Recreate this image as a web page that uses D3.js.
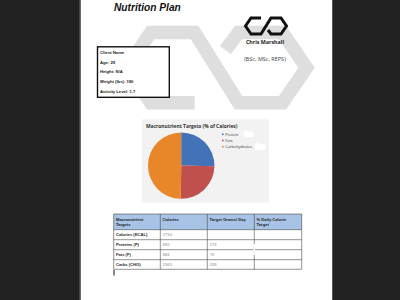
<!DOCTYPE html>
<html><head><meta charset="utf-8">
<script src="https://cdn.jsdelivr.net/npm/d3@7"></script>
<style>html,body{margin:0;padding:0;background:#222;}svg{display:block;}</style>
</head><body>
<svg id="c" width="400" height="300"></svg>
<script>
const categories = ["Protein", "Fats", "Carbohydrates"];
const calories = [692, 683, 1365];
const grams = [173, 76, 339];
const rowLabels = ["Calories (KCAL)", "Proteins (P)", "Fats (F)", "Carbs (CHO)"];
const totalCalories = 2730;
const headers = [["Macronutrient", "Targets"], ["Calories"], ["Target Grams/ Day"], ["% Daily Calorie", "Target"]];
const clientInfo = ["Client Name", "Age: 29", "Height: N/A", "Weight (lbs): 190", "Activity Level: 1.7"];
const colors = ["#4472b8", "#c0504d", "#e8872a"];

const svg = d3.select("#c");
const F = "'Liberation Sans', Arial, sans-serif";
const FC = "'Open Sans', 'Liberation Sans', sans-serif";

// background / page
svg.append("rect").attr("width", 400).attr("height", 300).attr("fill", "#222222");
svg.append("rect").attr("x", 79.5).attr("y", 0).attr("width", 2).attr("height", 300).attr("fill", "#6a6a6a");
svg.append("rect").attr("x", 81).attr("y", 0).attr("width", 251).attr("height", 300).attr("fill", "#ffffff");
svg.append("rect").attr("x", 332).attr("y", 0).attr("width", 1).attr("height", 300).attr("fill", "#555");

// logo path in unit coordinates (44 x 19)
const logoPts1 = [[17,1.5],[7,1.5],[1.5,9.5],[7,17.5],[17,17.5],[27,1.5],[37,1.5],[42.5,9.5],[37,17.5],[27,17.5],[24,13.5]];
function drawLogo(x0, y0, s, color, sw, flip) {
  const line = d3.line().x(d => x0 + d[0]*s).y(d => y0 + (flip ? 19 - d[1] : d[1])*s);
  svg.append("path").attr("d", line(logoPts1)).attr("fill", "none")
    .attr("stroke", color).attr("stroke-width", sw).attr("stroke-linejoin", "miter");
}
// watermark
drawLogo(120, 26, 4.39, "#dedede", 13.5, true);
// logo
drawLogo(244, 16.5, 1.0, "#111", 3, false);

// title
svg.append("text").attr("x", 114).attr("y", 10.5).text("Nutrition Plan")
  .attr("font-family", F).attr("font-size", 10.2).attr("font-weight", "bold").attr("font-style", "italic").attr("fill", "#111");

svg.append("text").attr("x", 265).attr("y", 44).attr("text-anchor", "middle").text("Chris Marshall")
  .attr("font-family", FC).attr("font-size", 5.3).attr("font-weight", "bold").attr("fill", "#222");
svg.append("text").attr("x", 265).attr("y", 61).attr("text-anchor", "middle").text("(BSc, MSc, REPS)")
  .attr("font-family", FC).attr("font-size", 5.5).attr("fill", "#444");

// client box
svg.append("rect").attr("x", 97.5).attr("y", 46.8).attr("width", 71.8).attr("height", 50.5)
  .attr("fill", "#fff").attr("stroke", "#111").attr("stroke-width", 1.4);
svg.selectAll(".ci").data(clientInfo).enter().append("text")
  .attr("x", 100).attr("y", (d, i) => 54 + i * 9.7).text(d => d)
  .attr("font-family", F).attr("font-size", 4.2).attr("font-weight", "bold").attr("fill", "#222");

// chart area
svg.append("rect").attr("x", 141.7).attr("y", 119.3).attr("width", 127.3).attr("height", 83.4).attr("fill", "#f2f2f2");
svg.append("text").attr("x", 146).attr("y", 128.2).text("Macronutrient Targets (% of Calories)")
  .attr("font-family", FC).attr("font-size", 4.9).attr("font-weight", "bold").attr("fill", "#333");

const pie = d3.pie().sort(null).value(d => d)(calories);
const arc = d3.arc().innerRadius(0).outerRadius(33.2);
svg.append("g").attr("transform", "translate(181.2,165.6)")
  .selectAll("path").data(pie).enter().append("path")
  .attr("d", arc).attr("fill", (d, i) => colors[i]);

const leg = svg.append("g");
categories.forEach((c, i) => {
  const y = 134.3 + i * 6.2;
  leg.append("rect").attr("x", 222).attr("y", y - 0.8).attr("width", 1.6).attr("height", 1.6).attr("fill", colors[i]);
  leg.append("text").attr("x", 225.3).attr("y", y + 1.4).text(c)
    .attr("font-family", FC).attr("font-size", 3.9).attr("fill", "#333");
});
// white smudges near legend
[[247,134,3.6],[251,134.5,3],[258,146.5,3.5],[262.5,147,3.2]].forEach(p => {
  svg.append("circle").attr("cx", p[0]).attr("cy", p[1]).attr("r", p[2]).attr("fill", "#fff");
});

// table
const colX = [113.7, 160.3, 207.3, 254.3, 301.7];
const rowY = [214, 229.7, 239.7, 249.7, 259.7, 269.3];
svg.append("rect").attr("x", colX[0]).attr("y", rowY[0]).attr("width", colX[4]-colX[0]).attr("height", rowY[1]-rowY[0]).attr("fill", "#a9c3e6");
const tg = svg.append("g").attr("stroke", "#4a4a4a").attr("stroke-width", 0.6);
rowY.forEach(y => tg.append("line").attr("x1", colX[0]).attr("x2", colX[4]).attr("y1", y).attr("y2", y));
colX.forEach(x => tg.append("line").attr("x1", x).attr("x2", x).attr("y1", rowY[0]).attr("y2", rowY[5]));

headers.forEach((h, j) => {
  h.forEach((ln, k) => {
    svg.append("text").attr("x", colX[j] + 2.3).attr("y", 220.6 + k * 5.3).text(ln)
      .attr("font-family", F).attr("font-size", 4.1).attr("font-weight", "bold").attr("fill", "#222");
  });
});
const tableRows = rowLabels.map((lab, i) => [lab, i === 0 ? totalCalories : calories[i-1], i === 0 ? "" : grams[i-1]]);
tableRows.forEach((r, i) => {
  const y = rowY[i+1] + 6.4;
  svg.append("text").attr("x", colX[0] + 2.3).attr("y", y).text(r[0])
    .attr("font-family", F).attr("font-size", 4.1).attr("font-weight", "bold").attr("fill", "#222");
  svg.append("text").attr("x", colX[1] + 2.5).attr("y", y).text(r[1])
    .attr("font-family", F).attr("font-size", 4.1).attr("fill", "#888");
  svg.append("text").attr("x", colX[2] + 2.5).attr("y", y).text(r[2])
    .attr("font-family", F).attr("font-size", 4.1).attr("fill", "#888");
});
// small white artifacts on table
svg.append("rect").attr("x", 253.5).attr("y", 244).attr("width", 1.5).attr("height", 11).attr("fill", "#fff");
// cursor
svg.append("rect").attr("x", 113.5).attr("y", 270).attr("width", 1).attr("height", 5.5).attr("fill", "#111");
</script>
</body></html>
